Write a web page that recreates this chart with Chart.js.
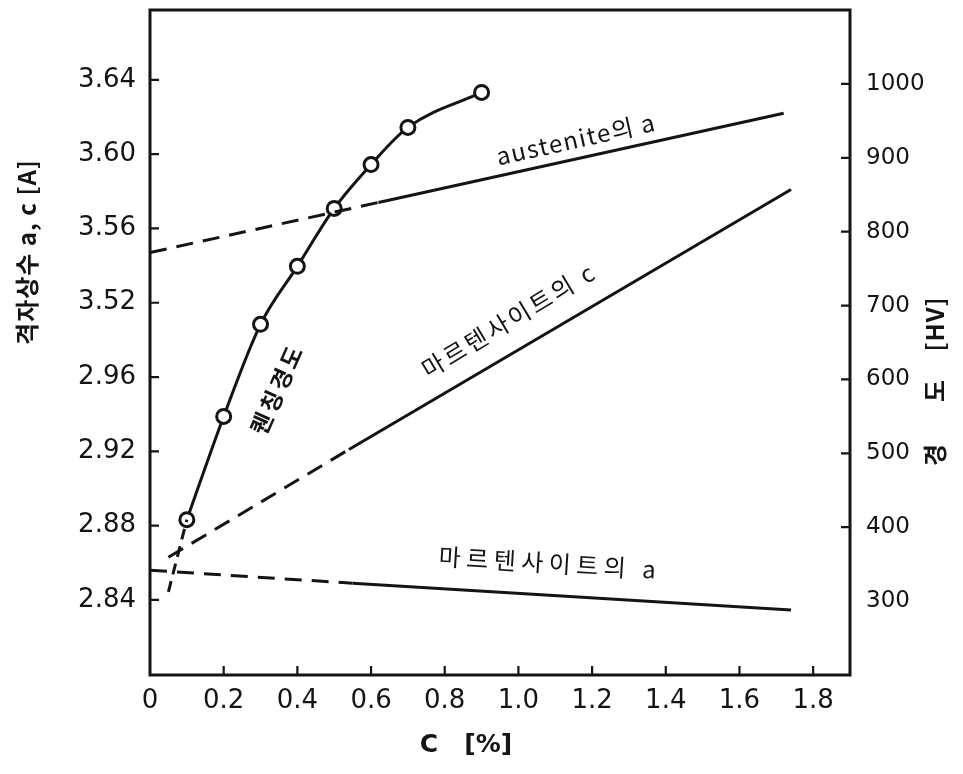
<!DOCTYPE html>
<html>
<head>
<meta charset="utf-8">
<script src="https://cdn.jsdelivr.net/npm/chart.js@4"></script>
<style>
  html, body { margin: 0; padding: 0; background: #fff; }
  #wrap { width: 963px; height: 774px; }
</style>
</head>
<body>
<div id="wrap"><canvas id="c" width="963" height="774"></canvas></div>
<script>
// Carbon content [%] and quench hardness [HV]
const hardnessC  = [0.1, 0.2, 0.3, 0.4, 0.5, 0.6, 0.7, 0.9];
const hardnessHV = [408, 547, 671, 749, 827, 886, 936, 983];
// low-carbon extension of the hardness curve (dashed)
const hardnessTailC  = [0.05, 0.1];
const hardnessTailHV = [311, 408];

// Lattice parameters [Å]: start, end of dashed part, end of solid part
const austeniteC = [0, 0.62, 1.72];
const austeniteA = [3.547, 3.574, 3.622];
const martC_C    = [0.05, 0.54, 1.74];
const martC_c    = [2.863, 2.921, 3.581];
const martA_C    = [0, 0.55, 1.74];
const martA_a    = [2.856, 2.849, 2.8346];

// Tick labels of the broken lattice axis and the hardness axis
const latticeTicks  = ['2.84', '2.88', '2.92', '2.96', '3.52', '3.56', '3.60', '3.64'];
const hardnessTicks = ['300', '400', '500', '600', '700', '800', '900', '1000'];
const carbonTicks   = ['0', '0.2', '0.4', '0.6', '0.8', '1.0', '1.2', '1.4', '1.6', '1.8'];

// The lattice axis is broken between 2.96 and 3.52; each 0.04 Å is one step.
function latticeToAxis(v) {
  return v < 3.2 ? (v - 2.84) / 0.04 : 4 + (v - 3.52) / 0.04;
}
const pts = (xs, ys, f) => xs.map((x, i) => ({ x, y: f ? f(ys[i]) : ys[i] }));

const INK = '#141414';
const FONT = '"DejaVu Sans", sans-serif';
const KFONT = '"Noto Sans CJK KR", "DejaVu Sans", sans-serif';
const DASH = [17, 10];
const firstDashed = ctx => ctx.p0DataIndex === 0 ? DASH : undefined;

const lineDefaults = {
  borderColor: INK, borderWidth: 3, pointRadius: 0, fill: false, tension: 0
};

// fixed axis boxes, no extra room for half tick labels
const fixBox = (w, h) => s => {
  if (w) s.width = w;
  if (h) s.height = h;
  s.paddingTop = 0; s.paddingBottom = 0; s.paddingLeft = 0; s.paddingRight = 0;
};

const frameAndText = {
  id: 'frameAndText',
  afterDraw(chart) {
    const { ctx, chartArea: a, scales } = chart;
    ctx.save();
    ctx.strokeStyle = INK;
    ctx.lineWidth = 3;
    ctx.strokeRect(a.left, a.top, a.right - a.left, a.bottom - a.top);
    // inward tick marks
    ctx.lineWidth = 2.2;
    ctx.beginPath();
    scales.x.ticks.forEach(t => {
      if (t.value <= 0) return;
      const px = scales.x.getPixelForValue(t.value);
      ctx.moveTo(px, a.bottom); ctx.lineTo(px, a.bottom - 9);
    });
    scales.y.ticks.forEach(t => {
      if (t.value < 0) return;
      const py = scales.y.getPixelForValue(t.value);
      ctx.moveTo(a.left, py); ctx.lineTo(a.left + 9, py);
    });
    scales.y2.ticks.forEach(t => {
      if (t.value < 300) return;
      const py = scales.y2.getPixelForValue(t.value);
      ctx.moveTo(a.right, py); ctx.lineTo(a.right - 9, py);
    });
    ctx.stroke();

    ctx.fillStyle = INK;
    ctx.textAlign = 'center';
    ctx.textBaseline = 'middle';
    const label = (text, x, y, deg, font, spacing) => {
      ctx.save();
      ctx.translate(x, y);
      ctx.rotate(deg * Math.PI / 180);
      ctx.font = font;
      ctx.letterSpacing = (spacing || 0) + 'px';
      ctx.fillText(text, 0, 0);
      ctx.restore();
    };
    // axis titles
    label('격자상수 a, c [A]', 27, 252, -90, 'bold 24px ' + KFONT, 1);
    label('경', 935, 455, -90, 'bold 24px ' + KFONT);
    label('도', 935, 391, -90, 'bold 24px ' + KFONT);
    label('[HV]', 935, 324, -90, 'bold 24px ' + KFONT, 1);
    label('C   [%]', 466, 745, 0, 'bold 25px ' + FONT);
    // curve annotations
    label('austenite의 a', 576, 139, -12.5, '24px ' + KFONT, 1.5);
    label('마르텐사이트의 c', 509, 320, -31, '24px ' + KFONT, 3);
    label('마르텐사이트의 a', 550, 563, 3.5, '24px ' + KFONT, 5.5);
    label('퀜칭경도', 277, 389, -66, 'bold 23px ' + KFONT, 3);
    ctx.restore();
  }
};

new Chart(document.getElementById('c'), {
  type: 'line',
  data: {
    datasets: [
      Object.assign({}, lineDefaults, {
        label: 'austenite a', yAxisID: 'y',
        data: pts(austeniteC, austeniteA, latticeToAxis),
        segment: { borderDash: firstDashed }
      }),
      Object.assign({}, lineDefaults, {
        label: 'martensite c', yAxisID: 'y',
        data: pts(martC_C, martC_c, latticeToAxis),
        segment: { borderDash: firstDashed }
      }),
      Object.assign({}, lineDefaults, {
        label: 'martensite a', yAxisID: 'y',
        data: pts(martA_C, martA_a, latticeToAxis),
        segment: { borderDash: firstDashed }
      }),
      Object.assign({}, lineDefaults, {
        label: 'hardness tail', yAxisID: 'y2',
        data: pts(hardnessTailC, hardnessTailHV),
        borderDash: [11, 7]
      }),
      Object.assign({}, lineDefaults, {
        label: 'quench hardness', yAxisID: 'y2',
        data: pts(hardnessC, hardnessHV),
        cubicInterpolationMode: 'monotone',
        pointRadius: 7, pointBorderWidth: 3,
        pointBackgroundColor: '#fff', pointBorderColor: INK
      })
    ]
  },
  options: {
    responsive: false,
    animation: false,
    layout: { padding: { top: 10, left: 0, right: 0, bottom: 0 } },
    plugins: { legend: { display: false }, tooltip: { enabled: false } },
    scales: {
      x: {
        type: 'linear', min: 0, max: 1.9,
        afterFit: fixBox(0, 99),
        grid: { display: false, drawTicks: false },
        border: { display: false },
        ticks: {
          stepSize: 0.2, includeBounds: false, padding: 11, maxRotation: 0,
          autoSkip: false, color: INK, font: { family: FONT, size: 26 },
          callback: v => carbonTicks[Math.round(v / 0.2)] ?? ''
        }
      },
      y: {
        type: 'linear', position: 'left', min: -1.01, max: 7.94,
        afterFit: fixBox(150, 0),
        grid: { display: false, drawTicks: false },
        border: { display: false },
        ticks: {
          stepSize: 1, includeBounds: false, padding: 14, autoSkip: false,
          color: INK, font: { family: FONT, size: 26 },
          callback: v => latticeTicks[Math.round(v)] ?? ''
        }
      },
      y2: {
        type: 'linear', position: 'right', min: 199, max: 1094,
        afterFit: fixBox(113, 0),
        grid: { display: false, drawTicks: false },
        border: { display: false },
        ticks: {
          stepSize: 100, includeBounds: false, padding: 16, autoSkip: false,
          color: INK, font: { family: FONT, size: 23 },
          callback: v => hardnessTicks[Math.round((v - 300) / 100)] ?? ''
        }
      }
    }
  },
  plugins: [frameAndText]
});
</script>
</body>
</html>
